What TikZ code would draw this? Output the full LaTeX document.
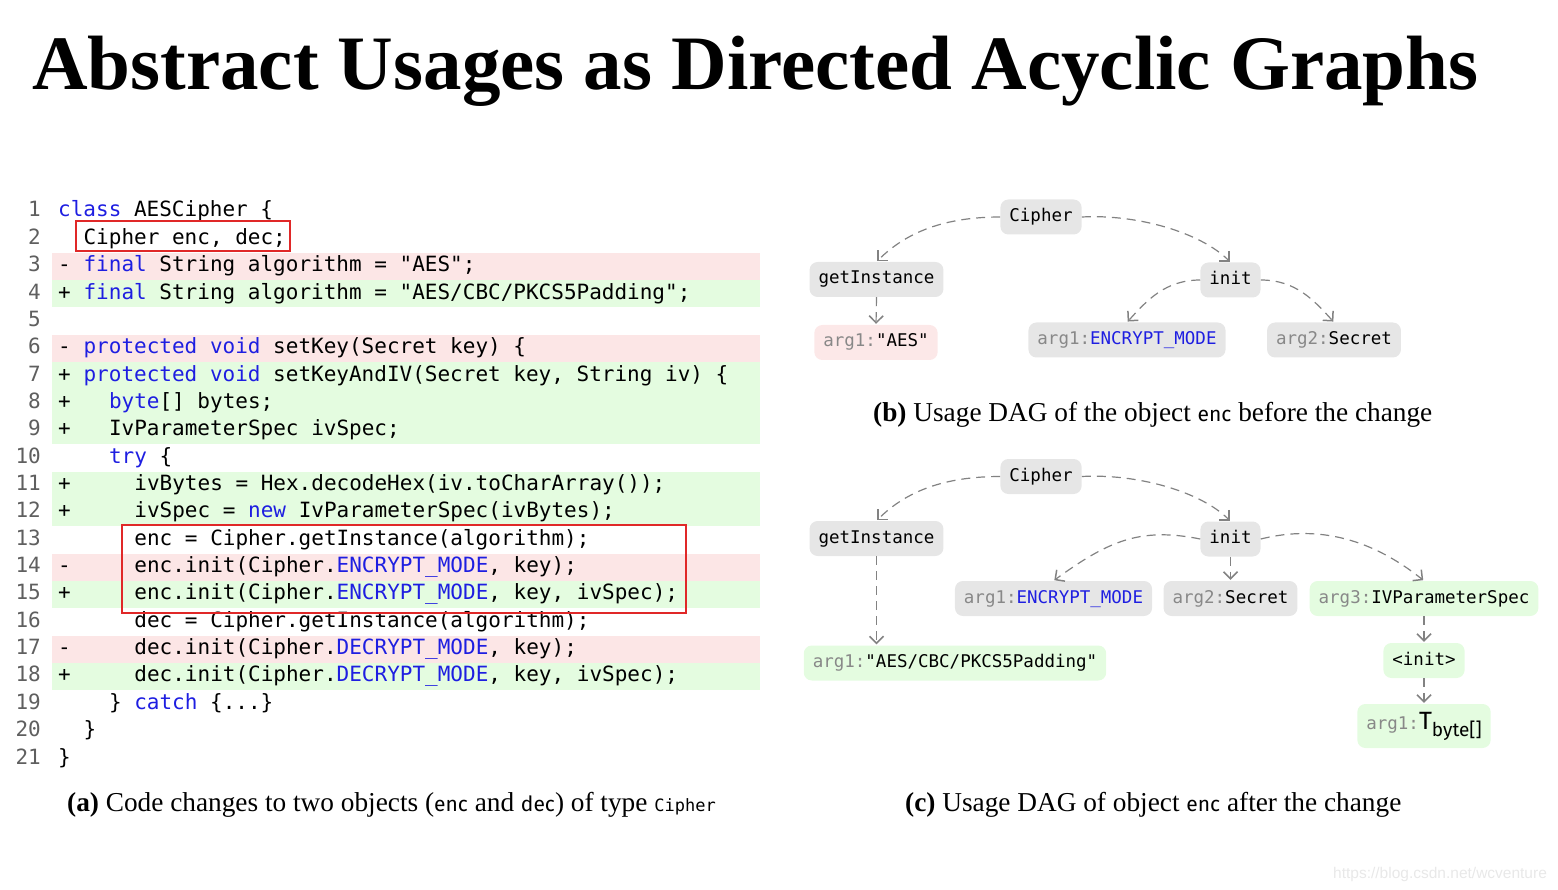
\documentclass[tikz,border=0pt]{standalone}
\usepackage{fontspec}
\setmonofont{DejaVu Sans Mono}
\newfontfamily\serifff{Liberation Serif}
\newfontfamily\sansff{Fira Sans}
\newfontfamily\wmff{Liberation Sans}
\usetikzlibrary{arrows.meta}
\definecolor{kwblue}{RGB}{30,30,225}
\definecolor{pinkbg}{RGB}{252,230,230}
\definecolor{greenbg}{RGB}{228,252,224}
\definecolor{nodegray}{RGB}{230,230,230}
\definecolor{nodepink}{RGB}{252,232,232}
\definecolor{nodegreen}{RGB}{228,252,224}
\definecolor{arggray}{RGB}{136,136,136}
\definecolor{edgegray}{RGB}{130,130,130}
\definecolor{boxred}{RGB}{224,40,40}
\definecolor{lngray}{RGB}{95,95,95}
\definecolor{wmgray}{RGB}{232,232,232}
\newcommand\kw[1]{\textcolor{kwblue}{#1}}
\newcommand\ag[1]{\textcolor{arggray}{#1}}
\tikzset{
  codetext/.style={anchor=base west, inner sep=0pt, font=\ttfamily\fontsize{21}{25}\selectfont},
  captext/.style={anchor=base west, inner sep=0pt, font=\serifff\fontsize{27.3}{30}\selectfont},
  dagbox/.style={rounded corners=8pt, fill=nodegray, font=\ttfamily\fontsize{17.5}{20}\selectfont,
    minimum height=35pt, inner xsep=9pt, inner ysep=0pt, text height=12.5pt, text depth=3.5pt},
  dagedge/.style={draw=edgegray, line width=1.2pt, dash pattern=on 9pt off 6pt,
    -{Straight Barb[length=7pt,width=14pt,line width=1.5pt]}, shorten >=1pt},
  redbox/.style={draw=boxred, line width=2pt}
}
\newcommand\codeln[4]{%
  \node[codetext, anchor=base east, text=lngray] (n#1) at (41,{217+(#1-1)*27.35}) {#1};
  \node[codetext] (m#1) at (58,{217+(#1-1)*27.35}) {#2};
  \node[codetext] (c#1) at ({58+#3*12.7},{217+(#1-1)*27.35}) {#4};
}
\newcommand\rowbg[2]{\fill[#2] (52,{198+(#1-1)*27.35}) rectangle (760,{198+#1*27.35});}
\begin{document}
\begin{tikzpicture}[x=1pt,y=-1pt]
\useasboundingbox (0,0) rectangle (1558,890);
% title
\node[anchor=base west, inner sep=0pt, font=\serifff\bfseries\fontsize{77}{80}\selectfont] (title) at (32,90) {Abstract Usages as Directed Acyclic Graphs};
% diff backgrounds
\rowbg{3}{pinkbg}
\rowbg{4}{greenbg}
\rowbg{6}{pinkbg}
\rowbg{7}{greenbg}
\rowbg{8}{greenbg}
\rowbg{9}{greenbg}
\rowbg{11}{greenbg}
\rowbg{12}{greenbg}
\rowbg{14}{pinkbg}
\rowbg{15}{greenbg}
\rowbg{17}{pinkbg}
\rowbg{18}{greenbg}
% code
\codeln{1}{}{0}{\kw{class} AESCipher \{}
\codeln{2}{}{2}{Cipher enc, dec;}
\codeln{3}{-}{2}{\kw{final} String algorithm = "AES";}
\codeln{4}{+}{2}{\kw{final} String algorithm = "AES/CBC/PKCS5Padding";}
\codeln{5}{}{0}{}
\codeln{6}{-}{2}{\kw{protected} \kw{void} setKey(Secret key) \{}
\codeln{7}{+}{2}{\kw{protected} \kw{void} setKeyAndIV(Secret key, String iv) \{}
\codeln{8}{+}{4}{\kw{byte}[] bytes;}
\codeln{9}{+}{4}{IvParameterSpec ivSpec;}
\codeln{10}{}{4}{\kw{try} \{}
\codeln{11}{+}{6}{ivBytes = Hex.decodeHex(iv.toCharArray());}
\codeln{12}{+}{6}{ivSpec = \kw{new} IvParameterSpec(ivBytes);}
\codeln{13}{}{6}{enc = Cipher.getInstance(algorithm);}
\codeln{14}{-}{6}{enc.init(Cipher.\kw{ENCRYPT\_MODE}, key);}
\codeln{15}{+}{6}{enc.init(Cipher.\kw{ENCRYPT\_MODE}, key, ivSpec);}
\codeln{16}{}{6}{dec = Cipher.getInstance(algorithm);}
\codeln{17}{-}{6}{dec.init(Cipher.\kw{DECRYPT\_MODE}, key);}
\codeln{18}{+}{6}{dec.init(Cipher.\kw{DECRYPT\_MODE}, key, ivSpec);}
\codeln{19}{}{4}{\} \kw{catch} \{...\}}
\codeln{20}{}{2}{\}}
\codeln{21}{}{0}{\}}
% red boxes
\draw[redbox] (76,221) rectangle (290,251);
\draw[redbox] (122,525) rectangle (686,613);
% captions
\node[captext] (capa) at (67,811) {\textbf{(a)} Code changes to two objects ({\sansff\fontsize{21}{24}\selectfont enc} and {\sansff\fontsize{21}{24}\selectfont dec}) of type {\ttfamily\fontsize{17}{20}\selectfont Cipher}};
\node[captext] (capb) at (873,421) {\textbf{(b)} Usage DAG of the object {\sansff\fontsize{21}{24}\selectfont enc} before the change};
\node[captext] (capc) at (905,811) {\textbf{(c)} Usage DAG of object {\sansff\fontsize{21}{24}\selectfont enc} after the change};
% DAG (b)
\node[dagbox] (cb) at (1041,217) {Cipher};
\node[dagbox] (gb) at (876.5,279.5) {getInstance};
\node[dagbox] (ib) at (1230.5,280) {init};
\node[dagbox, fill=nodepink] (ab) at (876,342.5) {\ag{arg1:}"AES"};
\node[dagbox] (eb) at (1127,340) {\ag{arg1:}\kw{ENCRYPT\_MODE}};
\node[dagbox] (sb) at (1334,340) {\ag{arg2:}Secret};
\draw[dagedge] (cb.west) .. controls +(-55,0) and +(30,-30) .. (gb.north);
\draw[dagedge] (cb.east) .. controls +(55,-3) and +(-30,-30) .. (ib.north);
\draw[dagedge] (gb.south) -- (ab.north);
\draw[dagedge] (ib.west) .. controls +(-35,0) and +(20,-22) .. (eb.north);
\draw[dagedge] (ib.east) .. controls +(35,0) and +(-20,-22) .. (sb.north);
% DAG (c)
\node[dagbox] (cc) at (1041,476.5) {Cipher};
\node[dagbox] (gc) at (876.5,538.5) {getInstance};
\node[dagbox] (ic) at (1230.5,539) {init};
\node[dagbox, fill=nodegreen] (pc) at (955,663) {\ag{arg1:}"AES/CBC/PKCS5Padding"};
\node[dagbox] (ec) at (1053.5,598.5) {\ag{arg1:}\kw{ENCRYPT\_MODE}};
\node[dagbox] (sc) at (1230.5,598.5) {\ag{arg2:}Secret};
\node[dagbox, fill=nodegreen] (vc) at (1424,598.5) {\ag{arg3:}IVParameterSpec};
\node[dagbox, fill=nodegreen] (nc) at (1424,660.5) {<init>};
\node[dagbox, fill=nodegreen, minimum height=44pt, text height=17pt, text depth=10pt] (tc) at (1424,726) {\ag{arg1:}{\sansff\fontsize{25}{25}\selectfont T}\raisebox{-7pt}{\sansff\fontsize{19}{19}\selectfont byte[]}};
\draw[dagedge] (cc.west) .. controls +(-55,0) and +(30,-30) .. (gc.north);
\draw[dagedge] (cc.east) .. controls +(55,-3) and +(-30,-30) .. (ic.north);
\draw[dagedge] (gc.south) -- (gc.south |- pc.north);
\draw[dagedge] (ic.west) .. controls +(-60,-12) and +(55,-40) .. (ec.north);
\draw[dagedge] (ic.south) -- (sc.north);
\draw[dagedge] (ic.east) .. controls +(60,-15) and +(-50,-40) .. (vc.north);
\draw[dagedge] (vc.south) -- (nc.north);
\draw[dagedge] (nc.south) -- (tc.north);
% watermark
\node[anchor=base west, inner sep=0pt, font=\wmff\fontsize{15.5}{18}\selectfont, text=wmgray] (wm) at (1333,878) {https://blog.csdn.net/wcventure};
\end{tikzpicture}
\end{document}
